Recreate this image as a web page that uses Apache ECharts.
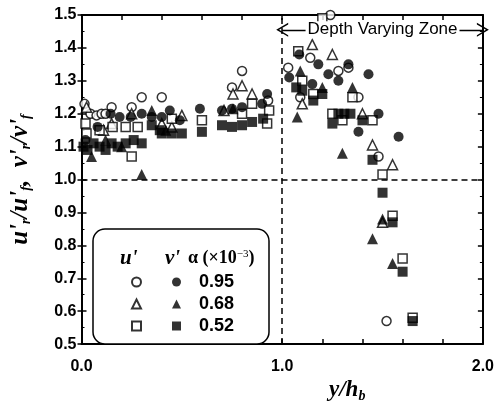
<!DOCTYPE html>
<html>
<head>
<meta charset="utf-8">
<script src="https://cdn.jsdelivr.net/npm/echarts@6/dist/echarts.min.js"></script>
<style>
  html, body { margin: 0; padding: 0; background: #fff; }
  #chart { width: 497px; height: 408px; }
</style>
</head>
<body>
<div id="chart"></div>
<script>
// u' (open) and v' (filled) for three alpha values, [y/hb, ratio]
const uCircle = [
  [0.015, 1.23], [0.045, 1.20], [0.075, 1.195], [0.10, 1.20], [0.12, 1.20], [0.15, 1.22],
  [0.25, 1.22], [0.30, 1.25], [0.40, 1.25], [0.75, 1.28], [0.80, 1.33], [0.93, 1.24],
  [1.24, 1.50], [1.14, 1.37], [1.03, 1.34], [1.28, 1.33], [1.33, 1.34], [1.38, 1.25],
  [1.09, 1.25], [1.48, 1.07], [1.52, 0.57]
];
const vCircle = [
  [0.02, 1.12], [0.08, 1.16], [0.145, 1.20], [0.19, 1.19], [0.245, 1.19], [0.30, 1.20],
  [0.35, 1.19], [0.40, 1.19], [0.44, 1.21], [0.49, 1.18], [0.59, 1.215], [0.70, 1.21],
  [0.75, 1.215], [0.80, 1.22], [0.90, 1.23], [0.925, 1.26],
  [1.085, 1.38], [1.18, 1.35], [1.33, 1.35], [1.23, 1.32], [1.43, 1.32], [1.035, 1.31],
  [1.28, 1.30], [1.15, 1.29], [1.48, 1.20], [1.38, 1.145], [1.58, 1.13]
];
const uTriangle = [
  [0.025, 1.22], [0.11, 1.15], [0.15, 1.17], [0.25, 1.20], [0.40, 1.17], [0.45, 1.16],
  [0.50, 1.195], [0.71, 1.21], [0.755, 1.26], [0.80, 1.285], [0.85, 1.26],
  [1.15, 1.41], [1.25, 1.38], [1.10, 1.23], [1.40, 1.20], [1.45, 1.105], [1.55, 1.045], [1.50, 0.87]
];
const vTriangle = [
  [0.05, 1.07], [0.12, 1.12], [0.20, 1.10], [0.30, 1.015], [0.35, 1.21], [0.42, 1.15], [0.755, 1.215],
  [1.09, 1.33], [1.20, 1.28], [1.35, 1.28], [1.075, 1.19], [1.30, 1.08], [1.50, 0.88],
  [1.45, 0.82], [1.55, 0.745]
];
const uSquare = [
  [0.02, 1.17], [0.025, 1.14], [0.09, 1.15], [0.155, 1.16], [0.22, 1.16], [0.25, 1.07],
  [0.28, 1.16], [0.45, 1.185], [0.60, 1.18], [0.80, 1.20], [0.85, 1.23], [0.935, 1.21], [0.925, 1.17],
  [1.20, 1.49], [1.08, 1.39], [1.10, 1.30], [1.155, 1.26], [1.35, 1.25], [1.25, 1.20],
  [1.30, 1.18], [1.45, 1.18], [1.50, 1.015], [1.55, 0.89], [1.60, 0.76], [1.65, 0.58]
];
const vSquare = [
  [0.01, 1.10], [0.03, 1.09], [0.06, 1.11], [0.09, 1.10], [0.12, 1.09], [0.15, 1.11],
  [0.18, 1.10], [0.22, 1.11], [0.26, 1.12], [0.30, 1.11], [0.35, 1.165], [0.39, 1.15],
  [0.40, 1.14], [0.45, 1.14], [0.50, 1.14], [0.60, 1.145], [0.70, 1.165], [0.75, 1.16],
  [0.80, 1.165], [0.85, 1.175], [0.905, 1.185],
  [1.07, 1.28], [1.10, 1.27], [1.20, 1.26], [1.155, 1.24], [1.28, 1.20], [1.31, 1.20],
  [1.34, 1.20], [1.25, 1.17], [1.40, 1.18], [1.45, 1.06], [1.50, 0.96], [1.55, 0.87],
  [1.60, 0.72], [1.65, 0.57]
];
const alphas = ["0.95", "0.68", "0.52"];
const refLineY = 1.0;
const refLineX = 1.0;
const zoneStart = 1.0;
const zoneEnd = 2.0;
const zoneY = 1.455;

const font = "Liberation Sans, Arial, sans-serif";
const serif = "Liberation Serif, Times New Roman, serif";
// 开口箭头
const chevron = "path://M0,0 L6,9 L4.6,9 L0,2.2 L-4.6,9 L-6,9 Z";

let myChart = echarts.init(document.getElementById("chart"));

function openSeries(name, data, symbol) {
  return {
    name: name,
    type: "scatter",
    data: data,
    symbol: symbol,
    symbolSize: symbol == "triangle" ? 10 : 9,
    itemStyle: { color: "#fff", borderColor: "#000", borderWidth: 1.5 },
    z: 3,
  };
}
function filledSeries(name, data, symbol) {
  return {
    name: name,
    type: "scatter",
    data: data,
    symbol: symbol,
    symbolSize: symbol == "triangle" ? 11 : 10,
    itemStyle: { color: "#000", borderColor: "#000", borderWidth: 0 },
    z: 4,
  };
}

let seriesArr = [
  openSeries("u1", uCircle, "circle"),
  openSeries("u2", uTriangle, "triangle"),
  openSeries("u3", uSquare, "rect"),
  filledSeries("v1", vCircle, "circle"),
  filledSeries("v2", vTriangle, "triangle"),
  filledSeries("v3", vSquare, "rect"),
];

// 虚线 + Depth Varying Zone
seriesArr[0].markLine = {
  silent: true,
  symbol: "none",
  animation: false,
  lineStyle: { color: "#000", type: [6, 4], width: 1.5 },
  label: { show: false },
  data: [{ yAxis: refLineY }, { xAxis: refLineX }],
};
seriesArr[1].markLine = {
  silent: true,
  symbol: [chevron, chevron],
  symbolSize: [14, 12],
  animation: false,
  lineStyle: { color: "#000", type: "solid", width: 1.3 },
  label: {
    show: true,
    position: "middle",
    verticalAlign: "middle",
    distance: 0,
    formatter: "Depth Varying Zone",
    color: "#000",
    fontFamily: font,
    fontSize: 17,
    backgroundColor: "#fff",
    padding: [0, 2],
  },
  data: [[{ coord: [zoneStart, zoneY] }, { coord: [zoneEnd, zoneY] }]],
};

const axisLineStyle = { show: true, onZero: false, lineStyle: { color: "#000", width: 2 } };
const labelStyle = { color: "#000", fontFamily: font, fontWeight: "bold", fontSize: 16 };

myChart.setOption({
  animation: false,
  grid: { left: 81, right: 14, top: 15, bottom: 46 },
  legend: [
    {
      data: ["u1", "u2", "u3"],
      orient: "vertical",
      left: 126,
      top: 267,
      itemWidth: 9,
      itemHeight: 9,
      itemGap: 2,
      formatter: () => " ",
      textStyle: { fontSize: 17, lineHeight: 20 },
      selectedMode: false,
    },
    {
      data: ["v1", "v2", "v3"],
      orient: "vertical",
      left: 167,
      top: 267,
      itemWidth: 9,
      itemHeight: 9,
      itemGap: 2,
      formatter: (n) => alphas[Number(n.slice(1)) - 1],
      textStyle: { color: "#000", fontFamily: font, fontWeight: "bold", fontSize: 18, lineHeight: 20, padding: [0, 0, 0, 13] },
      selectedMode: false,
    },
  ],
  graphic: [
    {
      type: "rect",
      z: 1,
      shape: { x: 93, y: 229, width: 176, height: 115, r: 12 },
      style: { fill: "#fff", stroke: "#000", lineWidth: 1.5 },
    },
    {
      type: "text",
      z: 5,
      left: 120,
      top: 248,
      style: { text: "u'", font: "italic bold 21px " + serif, fill: "#000" },
    },
    {
      type: "text",
      z: 5,
      left: 165,
      top: 248,
      style: { text: "v'", font: "italic bold 21px " + serif, fill: "#000" },
    },
    {
      type: "text",
      z: 5,
      left: 188,
      top: 249,
      style: {
        text: "{a|α (×10}{s|−3}{a|)}",
        rich: {
          a: { fontFamily: serif, fontSize: 18, fill: "#000", fontWeight: "bold" },
          s: { fontFamily: serif, fontSize: 11, fill: "#000", verticalAlign: "top", padding: [0, 0, 8, 0] },
        },
      },
    },
  ],
  xAxis: [
    {
      type: "value",
      min: 0,
      max: 2,
      interval: 0.2,
      position: "bottom",
      axisLine: axisLineStyle,
      axisTick: { show: true, inside: true, length: 5, lineStyle: { color: "#000", width: 1.5 } },
      axisLabel: {
        ...labelStyle,
        margin: 14,
        formatter: (v) => (Math.abs(v - Math.round(v)) < 1e-6 ? v.toFixed(1) : ""),
      },
      splitLine: { show: false },
      name: "{a|y/h}{s|b}",
      nameLocation: "middle",
      nameGap: 9,
      nameTextStyle: {
        rich: {
          a: { fontFamily: serif, fontStyle: "italic", fontWeight: "bold", fontSize: 23, color: "#000" },
          s: { fontFamily: serif, fontStyle: "italic", fontWeight: "bold", fontSize: 14, color: "#000", padding: [11, 0, 0, 0] },
        },
        padding: [0, 0, 0, 130],
      },
    },
    {
      type: "value",
      min: 0,
      max: 2,
      interval: 0.2,
      position: "top",
      axisLine: axisLineStyle,
      axisTick: { show: true, inside: true, length: 5, lineStyle: { color: "#000", width: 1.5 } },
      axisLabel: { show: false },
      splitLine: { show: false },
    },
  ],
  yAxis: [
    {
      type: "value",
      min: 0.5,
      max: 1.5,
      interval: 0.1,
      position: "left",
      axisLine: axisLineStyle,
      axisTick: { show: true, inside: false, length: 4, lineStyle: { color: "#000", width: 1.5 } },
      axisLabel: { ...labelStyle, margin: 5, formatter: (v) => v.toFixed(1) },
      splitLine: { show: false },
      name: "{a|u'}{s|r}{a|/u'}{s|f}{a|,  v'}{s|r}{a|/v'}{s|f}",
      nameLocation: "middle",
      nameGap: 48,
      nameTextStyle: {
        rich: {
          a: { fontFamily: serif, fontStyle: "italic", fontWeight: "bold", fontSize: 25, color: "#000" },
          s: { fontFamily: serif, fontStyle: "italic", fontWeight: "bold", fontSize: 14, color: "#000", padding: [12, 0, 0, 0] },
        },
      },
    },
    {
      type: "value",
      min: 0.5,
      max: 1.5,
      interval: 0.1,
      position: "left",
      axisLine: { show: false },
      axisTick: { show: true, inside: true, length: 5, lineStyle: { color: "#000", width: 1.5 } },
      minorTick: { show: true, splitNumber: 2, length: 3, lineStyle: { color: "#000", width: 1 } },
      axisLabel: { show: false },
      splitLine: { show: false },
    },
    {
      type: "value",
      min: 0.5,
      max: 1.5,
      interval: 0.1,
      position: "right",
      axisLine: axisLineStyle,
      axisTick: { show: true, inside: true, length: 5, lineStyle: { color: "#000", width: 1.5 } },
      minorTick: { show: true, splitNumber: 2, length: 3, lineStyle: { color: "#000", width: 1 } },
      axisLabel: { show: false },
      splitLine: { show: false },
    },
  ],
  series: seriesArr,
});
</script>
</body>
</html>
